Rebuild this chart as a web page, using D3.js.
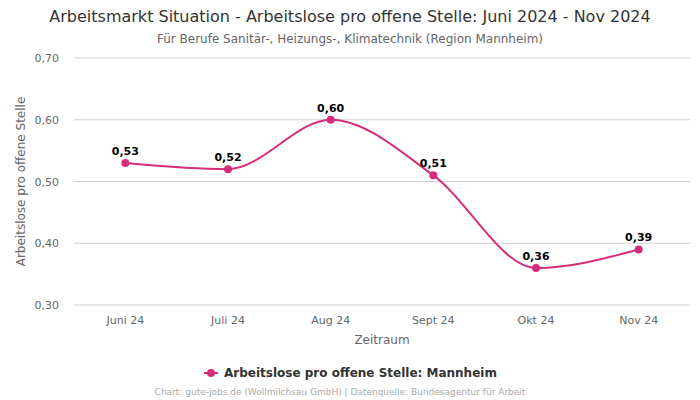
<!DOCTYPE html>
<html><head><meta charset="utf-8">
<script src="https://cdn.jsdelivr.net/npm/d3@7"></script>
<style>body{margin:0;background:#fff;font-family:"DejaVu Sans",sans-serif}</style>
</head><body><svg id="c" width="700" height="400"></svg>
<script>
const categories = ["Juni 24","Juli 24","Aug 24","Sept 24","Okt 24","Nov 24"];
const values = [0.53,0.52,0.60,0.51,0.36,0.39];
const yTicks = [0.30,0.40,0.50,0.60,0.70];
const seriesName = "Arbeitslose pro offene Stelle: Mannheim";
const color = "#d42e7b";
const fmt = v => v.toFixed(2).replace(".", ",");

const svg = d3.select("#c");
const m = {l:74, r:690, t:58, b:305};
const x = d3.scalePoint().domain(categories).range([m.l, m.r]).padding(0.5);
const y = d3.scaleLinear().domain([0.30,0.70]).range([m.b, m.t]);

svg.append("text").attr("x",350).attr("y",22).attr("text-anchor","middle")
  .attr("font-size",16).attr("fill","#333").text("Arbeitsmarkt Situation - Arbeitslose pro offene Stelle: Juni 2024 - Nov 2024");
svg.append("text").attr("x",350).attr("y",43).attr("text-anchor","middle")
  .attr("font-size",12).attr("fill","#666").text("Für Berufe Sanitär-, Heizungs-, Klimatechnik (Region Mannheim)");

const gy = svg.append("g");
gy.selectAll("line").data(yTicks).join("line")
  .attr("x1",m.l).attr("x2",m.r).attr("y1",d=>y(d)).attr("y2",d=>y(d))
  .attr("stroke","#d0d0d0").attr("stroke-width",1);
gy.selectAll("text").data(yTicks).join("text")
  .attr("x",59).attr("y",d=>y(d)+4).attr("text-anchor","end")
  .attr("font-size",11).attr("fill","#666").text(fmt);

svg.append("text").attr("transform",`translate(25,${(m.t+m.b)/2}) rotate(-90)`)
  .attr("text-anchor","middle").attr("font-size",12).attr("fill","#666").text("Arbeitslose pro offene Stelle");

svg.append("g").selectAll("text").data(categories).join("text")
  .attr("x",d=>x(d)).attr("y",324).attr("text-anchor","middle")
  .attr("font-size",11).attr("fill","#666").text(d=>d);
svg.append("text").attr("x",(m.l+m.r)/2).attr("y",344).attr("text-anchor","middle")
  .attr("font-size",12).attr("fill","#666").text("Zeitraum");

const pts = categories.map((c,i)=>[x(c), y(values[i])]);
svg.append("path").attr("d", d3.line().curve(d3.curveMonotoneX)(pts))
  .attr("fill","none").attr("stroke",color).attr("stroke-width",2);
svg.append("g").selectAll("circle").data(pts).join("circle")
  .attr("cx",d=>d[0]).attr("cy",d=>d[1]).attr("r",4).attr("fill",color);
svg.append("g").selectAll("text").data(values).join("text")
  .attr("x",(d,i)=>x(categories[i])).attr("y",d=>y(d)-8).attr("text-anchor","middle")
  .attr("font-size",11).attr("font-weight","bold").attr("fill","#000").text(fmt);

const lg = svg.append("g");
lg.append("line").attr("x1",204).attr("x2",218).attr("y1",373).attr("y2",373).attr("stroke",color).attr("stroke-width",2);
lg.append("circle").attr("cx",211).attr("cy",373).attr("r",4).attr("fill",color);
lg.append("text").attr("x",224).attr("y",377).attr("font-size",12).attr("font-weight","bold").attr("fill","#333").text(seriesName);

svg.append("text").attr("x",340).attr("y",395).attr("text-anchor","middle")
  .attr("font-size",9).attr("fill","#aaa").text("Chart: gute-jobs.de (Wollmilchsau GmbH) | Datenquelle: Bundesagentur für Arbeit");
</script></body></html>
